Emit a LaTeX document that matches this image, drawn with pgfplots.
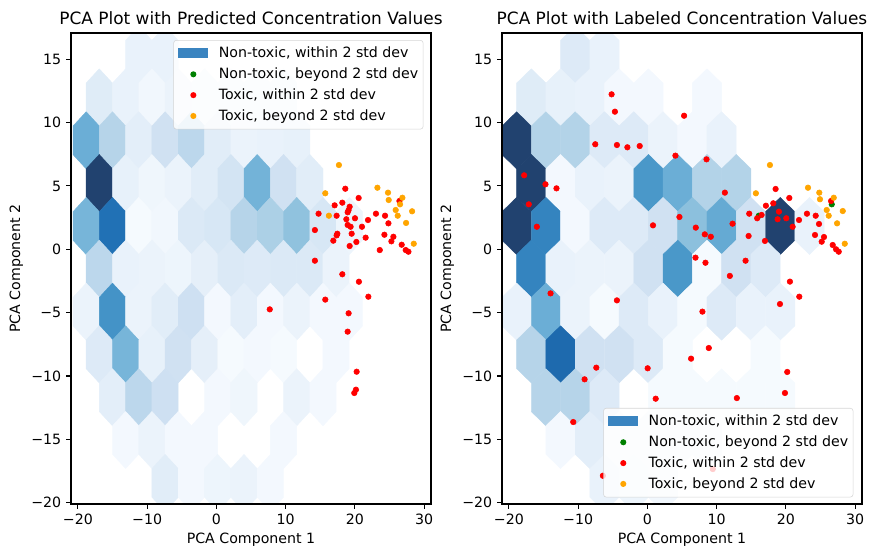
\documentclass[border=0pt]{standalone}
\usepackage{pgfplots}
\pgfplotsset{compat=1.18}
\usepackage{fontspec}
\setmainfont{DejaVu Sans}
\definecolor{mplred}{RGB}{255,0,0}
\definecolor{mplgreen}{RGB}{0,128,0}
\definecolor{mplorange}{RGB}{255,165,0}
\definecolor{hexleg}{RGB}{58,132,192}
\definecolor{legframe}{RGB}{204,204,204}
% hexagon marks (pointy top), sizes in pt matching the axis scaling
\pgfdeclareplotmark{hexL}{%
  \pgfpathmoveto{\pgfqpoint{9.47pt}{-10.28pt}}%
  \pgfpathlineto{\pgfqpoint{9.47pt}{10.28pt}}%
  \pgfpathlineto{\pgfqpoint{0pt}{20.56pt}}%
  \pgfpathlineto{\pgfqpoint{-9.47pt}{10.28pt}}%
  \pgfpathlineto{\pgfqpoint{-9.47pt}{-10.28pt}}%
  \pgfpathlineto{\pgfqpoint{0pt}{-20.56pt}}%
  \pgfpathclose
  \pgfusepathqfillstroke}
\pgfdeclareplotmark{hexR}{%
  \pgfpathmoveto{\pgfqpoint{10.54pt}{-10.28pt}}%
  \pgfpathlineto{\pgfqpoint{10.54pt}{10.28pt}}%
  \pgfpathlineto{\pgfqpoint{0pt}{20.56pt}}%
  \pgfpathlineto{\pgfqpoint{-10.54pt}{10.28pt}}%
  \pgfpathlineto{\pgfqpoint{-10.54pt}{-10.28pt}}%
  \pgfpathlineto{\pgfqpoint{0pt}{-20.56pt}}%
  \pgfpathclose
  \pgfusepathqfillstroke}

\pgfplotsset{
  mplax/.style={
    scale only axis, width=259.2pt, height=339.12pt,
    xmin=-21, xmax=31, ymin=-20.1, ymax=17.07,
    xtick={-20,-10,0,10,20,30}, xticklabels={−20,−10,0,10,20,30},
    ytick={-20,-15,-10,-5,0,5,10,15}, yticklabels={−20,−15,−10,−5,0,5,10,15},
    tick align=outside, tick pos=left, major tick length=3.5pt,
    tick style={line width=0.8pt, black},
    axis line style={line width=0.8pt},
    ticklabel style={font=\fontsize{10.2}{12}\selectfont},
    label style={font=\fontsize{10.2}{12}\selectfont},
    every axis title shift=0pt,
    title style={font=\fontsize{12.2}{14}\selectfont, at={(axis description cs:0.5,1.0171)}, anchor=base},
    xlabel style={at={(axis description cs:0.5,-0.0849)}, anchor=base},
    ylabel style={at={(axis description cs:-0.1416,0.5)}, anchor=base},
    xlabel={PCA Component 1}, ylabel={PCA Component 2},
    axis on top, clip marker paths=true,
    colormap={mplblues}{rgb255(0)=(247,251,255) rgb255(1)=(222,235,247) rgb255(2)=(198,219,239) rgb255(3)=(158,202,225) rgb255(4)=(107,174,214) rgb255(5)=(66,146,198) rgb255(6)=(33,113,181) rgb255(7)=(20,85,150) rgb255(8)=(33,66,111)},
    point meta min=0, point meta max=1,
    legend cell align=left,
    legend style={draw=legframe, fill=white, fill opacity=0.8, draw opacity=0.8, text opacity=1,
      rounded corners=2pt, font=\fontsize{10.2}{12}\selectfont,
      inner xsep=0pt, inner ysep=2pt, row sep=0pt,
      nodes={inner xsep=3.5pt, inner ysep=2.5pt, text height=8pt, text depth=2pt}},
  },
  hexleg/.style={legend image code/.code={%
     \path[draw=none, fill=none] (0pt,-1pt) rectangle (29pt,1pt);
     \fill[fill=hexleg, draw=none, fill opacity=1, sharp corners] (3.4pt,-3.6pt) rectangle (25pt,3.6pt);}},
  dotleg/.style={legend image code/.code={%
     \path[draw=none, fill=none] (0pt,-1pt) rectangle (29pt,1pt);
     \fill[fill=#1, draw=none, fill opacity=1] (14.2pt,0pt) circle (2.2pt);}},
  dots/.style={only marks, mark=*, mark size=2.0pt, mark options={fill=#1, draw=#1, line width=0.4pt}, forget plot},
  hexes/.style={scatter, only marks, mark=#1, scatter src=explicit,
     scatter/use mapped color={draw=mapped color, fill=mapped color},
     mark options={line width=0.3pt}, forget plot},
}

\begin{document}
\begin{tikzpicture}
\useasboundingbox (-51.12pt,-30.96pt) rectangle (574.56pt,362.88pt);

% ---------------- left axis ----------------
\begin{axis}[mplax, at={(0pt,0pt)}, anchor=south west,
  title={PCA Plot with Predicted Concentration Values},
  legend style={at={(axis description cs:0.9790,0.9851)}, anchor=north east}]
\addplot[hexes=hexL]
 table[x=x, y=y, meta=c] {
x y c
-11.22 15.36 0.07
-7.41 15.36 0.07
-16.92 11.99 0.12
-13.11 11.99 0.07
-9.31 11.99 0.03
-5.51 11.99 0.06
-1.71 11.99 0.05
2.10 11.99 0.04
5.89 11.99 0.05
9.70 11.99 0.05
-18.81 8.6 0.5
-15.01 8.6 0.3
-11.22 8.6 0.1
-7.41 8.6 0.2
-3.61 8.6 0.28
0.20 8.6 0.11
3.99 8.6 0.06
7.80 8.6 0.07
11.61 8.6 0.08
-16.92 5.23 1.0
-13.11 5.23 0.08
-9.31 5.23 0.04
-5.51 5.23 0.06
-1.71 5.23 0.11
2.10 5.23 0.18
5.89 5.23 0.48
9.70 5.23 0.2
13.50 5.23 0.11
-18.81 1.84 0.47
-15.01 1.84 0.75
-11.22 1.84 0.01
-7.41 1.84 0.03
-3.61 1.84 0.14
0.20 1.84 0.16
3.99 1.84 0.3
7.80 1.84 0.33
11.61 1.84 0.41
15.40 1.84 0.16
19.21 1.84 0.05
-16.92 -1.53 0.28
-13.11 -1.53 0.07
-9.31 -1.53 0.06
-5.51 -1.53 0.05
-1.71 -1.53 0.09
2.10 -1.53 0.14
5.89 -1.53 0.13
9.70 -1.53 0.14
13.50 -1.53 0.14
17.29 -1.53 0.06
-18.81 -4.92 0.06
-15.01 -4.92 0.62
-11.22 -4.92 0.06
-7.41 -4.92 0.11
-3.61 -4.92 0.21
0.20 -4.92 0.02
3.99 -4.92 0.10
7.80 -4.92 0.02
11.61 -4.92 0.06
15.40 -4.92 0.02
19.21 -4.92 0.02
-16.92 -8.29 0.13
-13.11 -8.29 0.47
-9.31 -8.29 0.08
-5.51 -8.29 0.2
-1.71 -8.29 0.09
2.10 -8.29 0.01
5.89 -8.29 0.02
9.70 -8.29 0.01
17.29 -8.29 0.02
-15.01 -11.68 0.1
-11.22 -11.68 0.28
-7.41 -11.68 0.21
0.20 -11.68 0.02
3.99 -11.68 0.04
11.61 -11.68 0.06
15.40 -11.68 0.02
-13.11 -15.05 0.02
-9.31 -15.05 0.06
-5.51 -15.05 0.02
-1.71 -15.05 0.02
9.70 -15.05 0.02
-7.41 -18.44 0.11
-3.61 -18.44 0.02
0.20 -18.44 0.05
3.99 -18.44 0.06
7.80 -18.44 0.02
};
\addlegendimage{hexleg}\addlegendentry{Non-toxic, within 2 std dev}
\addlegendimage{dotleg=mplgreen}\addlegendentry{Non-toxic, beyond 2 std dev}
\addlegendimage{dotleg=mplred}\addlegendentry{Toxic, within 2 std dev}
\addlegendimage{dotleg=mplorange}\addlegendentry{Toxic, beyond 2 std dev}
\addplot[dots=mplred] table {
18.62 4.78
20.55 4.05
17.08 3.47
18.19 3.68
19.25 3.36
19.10 3.10
18.96 2.92
14.76 2.81
17.37 2.65
20.02 2.45
18.77 2.37
21.90 2.31
23.05 2.81
24.36 2.65
26.44 3.81
24.85 2.05
18.96 1.92
19.39 1.78
21.03 1.78
14.23 1.52
17.47 1.23
17.37 1.10
19.54 1.23
21.56 0.92
24.27 1.15
25.57 0.99
25.28 0.63
16.89 0.68
20.22 0.58
19.25 0.26
23.60 -0.06
26.77 0.36
27.35 -0.06
27.74 -0.19
14.23 -0.90
18.19 -1.97
20.59 -2.56
15.73 -3.97
21.95 -3.74
7.71 -4.74
19.10 -5.05
18.96 -6.50
20.26 -9.66
20.16 -11.08
19.92 -11.34
};
\addplot[dots=mplorange] table {
17.70 6.65
15.73 4.42
23.26 4.86
24.79 4.47
24.89 3.89
26.87 4.07
26.53 3.55
28.27 3.00
25.90 3.10
26.19 2.65
16.25 2.65
27.40 2.08
28.51 0.44
};
\end{axis}

% ---------------- right axis ----------------
\begin{axis}[mplax, at={(310.32pt,0pt)}, anchor=south west,
  title={PCA Plot with Labeled Concentration Values},
  legend style={at={(axis description cs:0.9760,0.0140)}, anchor=south east}]
\addplot[hexes=hexR]
 table[x=x, y=y, meta=c] {
x y c
-10.43 15.36 0.13
-6.20 15.36 0.07
-16.77 11.99 0.12
-12.54 11.99 0.08
-8.31 11.99 0.07
-4.08 11.99 0.02
0.15 11.99 0.02
8.61 11.99 0.02
-18.89 8.6 1.0
-14.66 8.6 0.31
-10.43 8.6 0.31
-6.20 8.6 0.13
-1.97 8.6 0.13
2.26 8.6 0.06
6.49 8.6 0.02
10.72 8.6 0.07
-16.77 5.23 1.0
-12.54 5.23 0.02
-8.31 5.23 0.07
-4.08 5.23 0.06
0.15 5.23 0.6
4.38 5.23 0.5
8.61 5.23 0.31
12.84 5.23 0.31
-18.89 1.84 1.0
-14.66 1.84 0.68
-10.43 1.84 0.02
-6.20 1.84 0.13
-1.97 1.84 0.13
2.26 1.84 0.2
6.49 1.84 0.42
10.72 1.84 0.52
14.95 1.84 0.2
19.18 1.84 1.0
23.41 1.84 0.07
-16.77 -1.53 0.68
-12.54 -1.53 0.07
-8.31 -1.53 0.06
-4.08 -1.53 0.06
0.15 -1.53 0.2
4.38 -1.53 0.6
8.61 -1.53 0.01
12.84 -1.53 0.2
17.07 -1.53 0.13
-18.89 -4.92 0.07
-14.66 -4.92 0.5
-10.43 -4.92 0.06
-6.20 -4.92 0.01
-1.97 -4.92 0.13
2.26 -4.92 0.07
6.49 -4.92 0.01
10.72 -4.92 0.13
14.95 -4.92 0.07
19.18 -4.92 0.07
-16.77 -8.29 0.3
-12.54 -8.29 0.78
-8.31 -8.29 0.2
-4.08 -8.29 0.2
0.15 -8.29 0.13
4.38 -8.29 0.01
17.07 -8.29 0.01
-14.66 -11.68 0.3
-10.43 -11.68 0.3
-6.20 -11.68 0.13
2.26 -11.68 0.01
6.49 -11.68 0.01
10.72 -11.68 0.01
14.95 -11.68 0.01
19.18 -11.68 0.01
-12.54 -15.05 0.02
-8.31 -15.05 0.1
-4.08 -15.05 0.03
0.15 -15.05 0.02
4.38 -15.05 0.02
8.61 -15.05 0.02
-6.20 -18.44 0.07
-1.97 -18.44 0.05
2.26 -18.44 0.03
};
\addlegendimage{hexleg}\addlegendentry{Non-toxic, within 2 std dev}
\addlegendimage{dotleg=mplgreen}\addlegendentry{Non-toxic, beyond 2 std dev}
\addlegendimage{dotleg=mplred}\addlegendentry{Toxic, within 2 std dev}
\addlegendimage{dotleg=mplorange}\addlegendentry{Toxic, beyond 2 std dev}
\addplot[dots=mplgreen] table {
16.10 2.65
26.63 3.55
};
\addplot[dots=mplred] table {
-5.17 12.23
-4.69 10.86
-7.53 8.29
-4.40 8.23
-2.89 8.05
-1.11 8.15
4.05 7.39
5.30 10.54
8.54 7.10
-17.80 5.84
-14.72 5.13
-13.13 4.81
-17.13 3.55
-15.97 1.78
0.81 1.89
4.63 2.55
6.99 1.71
8.29 1.18
9.16 0.99
12.30 2.02
11.19 4.47
6.95 -0.66
8.39 -1.06
14.18 -0.90
11.91 -2.10
14.71 2.81
15.86 2.45
16.50 2.71
14.62 1.05
16.98 0.66
17.12 3.44
18.18 3.63
18.52 4.76
20.50 4.05
19.00 2.97
18.81 2.37
20.06 2.45
20.98 1.78
21.90 2.31
23.05 2.81
24.31 2.65
24.79 2.00
24.21 1.13
25.51 0.97
25.18 0.60
26.77 0.34
27.25 0.00
27.64 -0.19
26.53 3.81
20.59 -2.55
21.94 -3.74
19.15 -4.32
7.95 -4.92
-13.99 -3.48
-4.40 -4.03
8.87 -7.79
6.31 -8.63
-7.38 -9.34
0.04 -9.39
-9.07 -10.26
20.20 -9.68
1.20 -11.79
12.92 -11.74
19.87 -11.34
-10.71 -13.63
-6.43 -17.87
9.45 -17.34
};
\addplot[dots=mplorange] table {
17.70 6.65
15.67 4.42
23.20 4.86
24.83 4.47
24.93 3.95
26.92 4.07
25.90 3.10
26.19 2.65
28.22 3.02
27.40 2.05
28.51 0.44
};
\end{axis}
\end{tikzpicture}
\end{document}
